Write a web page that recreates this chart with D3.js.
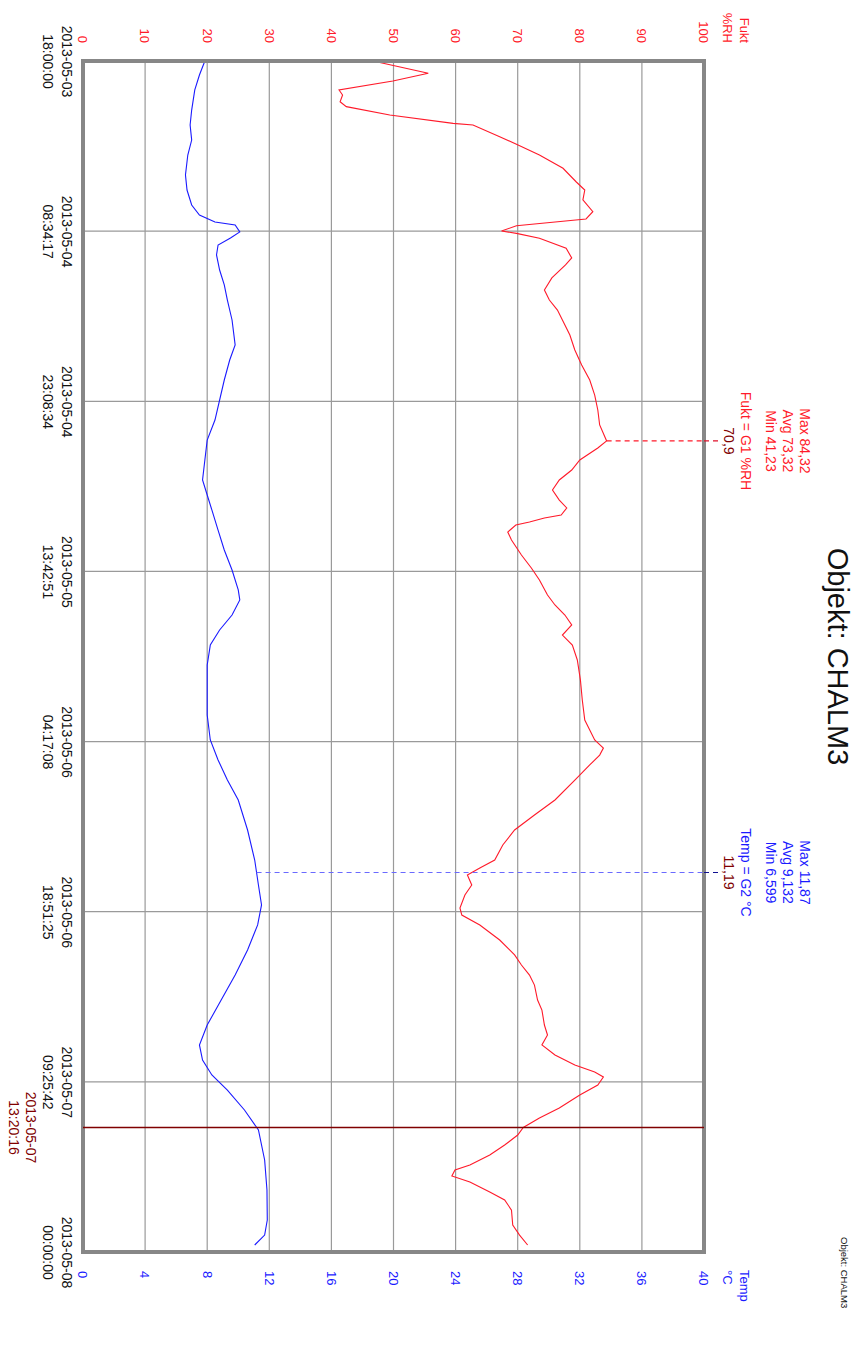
<!DOCTYPE html>
<html>
<head>
<meta charset="utf-8">
<script src="https://cdn.jsdelivr.net/npm/d3@7"></script>
<style>
  body { margin: 0; background: #fff; }
  svg { display: block; }
  text { font-family: "Liberation Sans", Arial, sans-serif; }
</style>
</head>
<body>
<svg id="chart" width="859" height="1352"></svg>
<script>
// ---- data ---------------------------------------------------------------
const startTime = Date.UTC(2013, 4, 3, 18, 0, 0);
const endTime   = Date.UTC(2013, 4, 8, 0, 0, 0);
const cursorTime = Date.UTC(2013, 4, 7, 13, 20, 16);

// relative humidity (Fukt, %RH), hours since start
const humHours = [0, 1.05, 1.71, 2.48, 2.91, 3.49, 3.91, 4.62, 5.34, 5.48, 6.48, 7.13, 8.05, 9.19, 10.34,
  11.05, 11.9, 12.91, 13.53, 14.11, 14.56, 14.76, 15.18, 16.04, 16.87, 17.47, 18.58, 19.61, 20.47, 21.33,
  22.18, 23.47, 24.75, 26.04, 27.32, 28.61, 29.89, 31.17, 32.54, 33.14, 34.17, 35.03, 35.88, 36.74, 37.6,
  38.28, 38.88, 39.14, 39.48, 39.74, 40.34, 41.02, 42.31, 43.42, 44.45, 45.73, 46.59, 47.45, 48.3, 49.16,
  50.02, 51.3, 53.01, 54.73, 56.44, 58.15, 58.84, 59.44, 60.29, 61.58, 63.29, 64.58, 65.86, 67.14, 68.43,
  69.12, 69.72, 70.57, 71.43, 72.54, 73.14, 73.99, 75.28, 76.56, 77.42, 78.28, 79.14, 80.42, 81.28, 82.56,
  83.42, 84.27, 85.13, 85.99, 86.59, 87.01, 87.7, 88.55, 89.67, 90.52, 91.34, 91.98, 92.84, 93.69, 94.55,
  94.98, 95.49, 96.01, 96.86, 97.55, 98.41, 99.69, 100.55, 101.4];
const humValues = [46.7, 55.6, 49.9, 41.23, 41.8, 41.4, 42.4, 49.4, 59.6, 62.8, 67.1, 69.8, 73.5, 77.3, 79.4,
  80.8, 80.5, 82.1, 81.0, 69.8, 67.4, 69.8, 73.5, 77.8, 78.7, 77.7, 75.5, 74.3, 75.1, 76.4,
  77.2, 78.4, 79.2, 80.3, 81.6, 82.4, 82.9, 83.2, 84.32, 82.9, 80.0, 78.7, 76.7, 75.6, 76.7,
  77.9, 77.0, 74.3, 71.9, 69.7, 68.4, 69.0, 70.6, 72.2, 73.5, 74.8, 76.0, 77.6, 78.7, 77.2,
  78.8, 79.6, 80.1, 80.4, 80.8, 82.4, 83.8, 83.2, 81.6, 79.2, 76.0, 72.7, 69.5, 67.6, 66.3,
  63.9, 61.9, 62.6, 61.5, 60.7, 61.0, 63.9, 67.1, 69.5, 70.6, 71.9, 72.7, 73.2, 73.9, 74.3,
  74.8, 73.9, 76.0, 79.2, 82.4, 83.8, 82.9, 80.0, 76.7, 73.5, 70.9, 70.0, 67.9, 65.5, 62.3,
  59.9, 59.4, 62.3, 65.5, 67.9, 69.0, 69.2, 70.3, 71.6];

// temperature (Temp, °C), hours since start
const tempHours = [0, 1.2, 2.48, 4.2, 5.48, 6.77, 8.05, 9.76, 11.05, 12.33, 13.19, 13.79, 14.05, 14.64,
  15.16, 15.76, 16.61, 17.9, 19.18, 20.47, 22.18, 24.32, 25.61, 27.32, 30.75, 32.46, 34.17, 35.88, 37.17,
  38.45, 40.17, 41.88, 43.59, 45.3, 46.16, 47.45, 48.73, 50.02, 51.73, 53.87, 56.01, 58.15, 59.86, 61.58,
  63.29, 65.86, 68.43, 70.57, 72.28, 73.99, 76.14, 78.28, 80.42, 82.56, 84.27, 85.56, 86.84, 88.13, 89.84,
  91.55, 94.12, 96.69, 99.26, 100.55, 101.4];
const tempValues = [7.85, 7.5, 7.2, 7.0, 6.9, 7.0, 6.75, 6.6, 6.7, 7.0, 7.5, 8.5, 9.8, 10.1,
  9.5, 8.7, 8.6, 8.8, 9.1, 9.3, 9.6, 9.8, 9.45, 9.1, 8.5, 8.0, 7.85, 7.7, 8.0,
  8.3, 8.7, 9.1, 9.6, 10.0, 10.1, 9.6, 8.8, 8.2, 8.0, 8.0, 8.0, 8.2, 8.7, 9.3,
  10.0, 10.6, 11.06, 11.3, 11.5, 11.25, 10.6, 9.8, 8.9, 8.0, 7.5, 7.7, 8.3, 9.3, 10.4,
  11.3, 11.7, 11.85, 11.87, 11.7, 11.06];

const humTicks  = [0, 10, 20, 30, 40, 50, 60, 70, 80, 90, 100];
const tempTicks = [0, 4, 8, 12, 16, 20, 24, 28, 32, 36, 40];
const timeTickCount = 8;

const humAxisTitle  = ["Fukt", "%RH"];
const tempAxisTitle = ["Temp", "°C"];
const humStatLines  = ["Max 84,32", "Avg 73,32", "Min 41,23", "Fukt = G1 %RH"];
const tempStatLines = ["Max 11,87", "Avg 9,132", "Min 6,599", "Temp = G2 °C"];
const humMarkHour  = 32.54;
const tempMarkHour = 69.5;
const cursorHum  = 70.9;
const cursorTemp = 11.19;
const titleText = "Objekt: CHALM3";

// ---- drawing -------------------------------------------------------------
const RED = "#ff1a2a", BLUE = "#1a1aff", CURSOR = "#800000", FRAME = "#878787", GRID = "#9a9a9a";
const hour = 3600e3;
const humData  = humHours.map((h, i) => ({ t: new Date(startTime + h * hour), v: humValues[i] }));
const tempData = tempHours.map((h, i) => ({ t: new Date(startTime + h * hour), v: tempValues[i] }));

const svg = d3.select("#chart");
svg.append("rect").attr("width", 859).attr("height", 1352).attr("fill", "#fff");

// the whole chart is laid out landscape and turned a quarter turn clockwise
const g = svg.append("g").attr("transform", "translate(859,0) rotate(90)");

const X0 = 61, X1 = 1252, Y0 = 155, Y1 = 776;
const x  = d3.scaleUtc().domain([new Date(startTime), new Date(endTime)]).range([X0, X1]);
const yH = d3.scaleLinear().domain([0, 100]).range([Y1, Y0]);
const yT = d3.scaleLinear().domain([0, 40]).range([Y1, Y0]);

const timeTicks = d3.range(timeTickCount).map(i => new Date(startTime + i * (endTime - startTime) / (timeTickCount - 1)));

// grid
g.append("g").selectAll("line").data(timeTicks.slice(1, -1)).join("line")
  .attr("x1", d => x(d)).attr("x2", d => x(d)).attr("y1", Y0).attr("y2", Y1)
  .attr("stroke", GRID).attr("stroke-width", 1.2);
g.append("g").selectAll("line").data(humTicks.slice(1, -1)).join("line")
  .attr("x1", X0).attr("x2", X1).attr("y1", d => yH(d)).attr("y2", d => yH(d))
  .attr("stroke", GRID).attr("stroke-width", 1.2);

// curves
const humLine  = d3.line().x(d => x(d.t)).y(d => yH(d.v));
const tempLine = d3.line().x(d => x(d.t)).y(d => yT(d.v));
g.append("path").datum(humData).attr("d", humLine).attr("fill", "none").attr("stroke", RED).attr("stroke-width", 1.1);
g.append("path").datum(tempData).attr("d", tempLine).attr("fill", "none").attr("stroke", BLUE).attr("stroke-width", 1.1);

// frame
g.append("rect").attr("x", X0).attr("y", Y0).attr("width", X1 - X0).attr("height", Y1 - Y0)
  .attr("fill", "none").attr("stroke", FRAME).attr("stroke-width", 4);

// humidity axis (left)
const hAxis = g.append("g").attr("transform", `translate(${X0},0)`)
  .call(d3.axisLeft(yH).tickValues(humTicks).tickSize(0).tickPadding(18));
hAxis.select(".domain").remove();
hAxis.selectAll("text").attr("fill", RED).attr("font-size", 13).attr("font-family", null);

// temperature axis (right)
const tAxis = g.append("g").attr("transform", `translate(${X1},0)`)
  .call(d3.axisRight(yT).tickValues(tempTicks).tickSize(0).tickPadding(19));
tAxis.select(".domain").remove();
tAxis.selectAll("text").attr("fill", BLUE).attr("font-size", 13).attr("font-family", null);

// axis titles
g.append("g").selectAll("text").data(humAxisTitle).join("text")
  .attr("x", 43).attr("y", (d, i) => 119 + i * 17).attr("text-anchor", "end")
  .attr("font-size", 13).attr("fill", RED).text(d => d);
g.append("g").selectAll("text").data(tempAxisTitle).join("text")
  .attr("x", 1270).attr("y", (d, i) => 119 + i * 17).attr("text-anchor", "start")
  .attr("font-size", 13).attr("fill", BLUE).text(d => d);

// time axis (bottom) with two-line labels
const fmtDate = d3.utcFormat("%Y-%m-%d"), fmtTime = d3.utcFormat("%H:%M:%S");
const xAxis = g.append("g").attr("transform", `translate(0,${Y1})`)
  .call(d3.axisBottom(x).tickValues(timeTicks).tickSize(0).tickFormat(""));
xAxis.select(".domain").remove();
xAxis.selectAll(".tick text").each(function (d) {
  const t = d3.select(this).attr("y", null).attr("dy", null)
    .attr("font-size", 14).attr("fill", "#111").attr("font-family", null);
  t.append("tspan").attr("x", 0).attr("y", 21).text(fmtDate(d));
  t.append("tspan").attr("x", 0).attr("y", 40).text(fmtTime(d));
});

// cursor
const cx = x(new Date(cursorTime));
g.append("line").attr("x1", cx).attr("x2", cx).attr("y1", Y0).attr("y2", Y1)
  .attr("stroke", CURSOR).attr("stroke-width", 1.5);
g.append("text").attr("text-anchor", "middle").attr("font-size", 14).attr("fill", CURSOR)
  .selectAll("tspan").data([fmtDate(new Date(cursorTime)), fmtTime(new Date(cursorTime))]).join("tspan")
  .attr("x", cx).attr("y", (d, i) => 833 + i * 17).text(d => d);

// value markers
const fmtNum = v => String(v).replace(".", ",");
function valueAt(data, hours) {
  const t = startTime + hours * hour;
  const i = d3.bisector(d => +d.t).left(data, t);
  const a = data[Math.max(0, i - 1)], b = data[Math.min(data.length - 1, i)];
  if (+b.t === +a.t) return a.v;
  return a.v + (b.v - a.v) * (t - a.t) / (b.t - a.t);
}
function marker(data, scale, hours, lines, cursorValue, colIn, colOut, textCol) {
  const mx = x(new Date(startTime + hours * hour));
  const v = valueAt(data, hours);
  g.append("line").attr("x1", mx).attr("x2", mx).attr("y1", scale(v)).attr("y2", Y0)
    .attr("stroke", colIn).attr("stroke-width", 1.2).attr("stroke-dasharray", "5,4");
  g.append("line").attr("x1", mx).attr("x2", mx).attr("y1", Y0).attr("y2", 140)
    .attr("stroke", colOut).attr("stroke-width", 1.2).attr("stroke-dasharray", "5,4");
  const ys = [59, 76, 93, 118];
  g.append("g").selectAll("text").data(lines).join("text")
    .attr("x", mx).attr("y", (d, i) => ys[i]).attr("text-anchor", "middle")
    .attr("font-size", 14).attr("fill", textCol).text(d => d);
  g.append("text").attr("x", mx).attr("y", 135).attr("text-anchor", "middle")
    .attr("font-size", 14).attr("fill", CURSOR).text(fmtNum(cursorValue));
}
marker(humData, yH, humMarkHour, humStatLines, cursorHum, RED, "#e0102a", RED);
marker(tempData, yT, tempMarkHour, tempStatLines, cursorTemp, "#6a6aff", "#101090", BLUE);

// titles
g.append("text").attr("x", (X0 + X1) / 2).attr("y", 31).attr("text-anchor", "middle")
  .attr("font-size", 29).attr("fill", "#111").text(titleText);
g.append("text").attr("x", 1237).attr("y", 18).attr("text-anchor", "start")
  .attr("font-size", 9.5).attr("fill", "#111").text(titleText);
</script>
</body>
</html>
